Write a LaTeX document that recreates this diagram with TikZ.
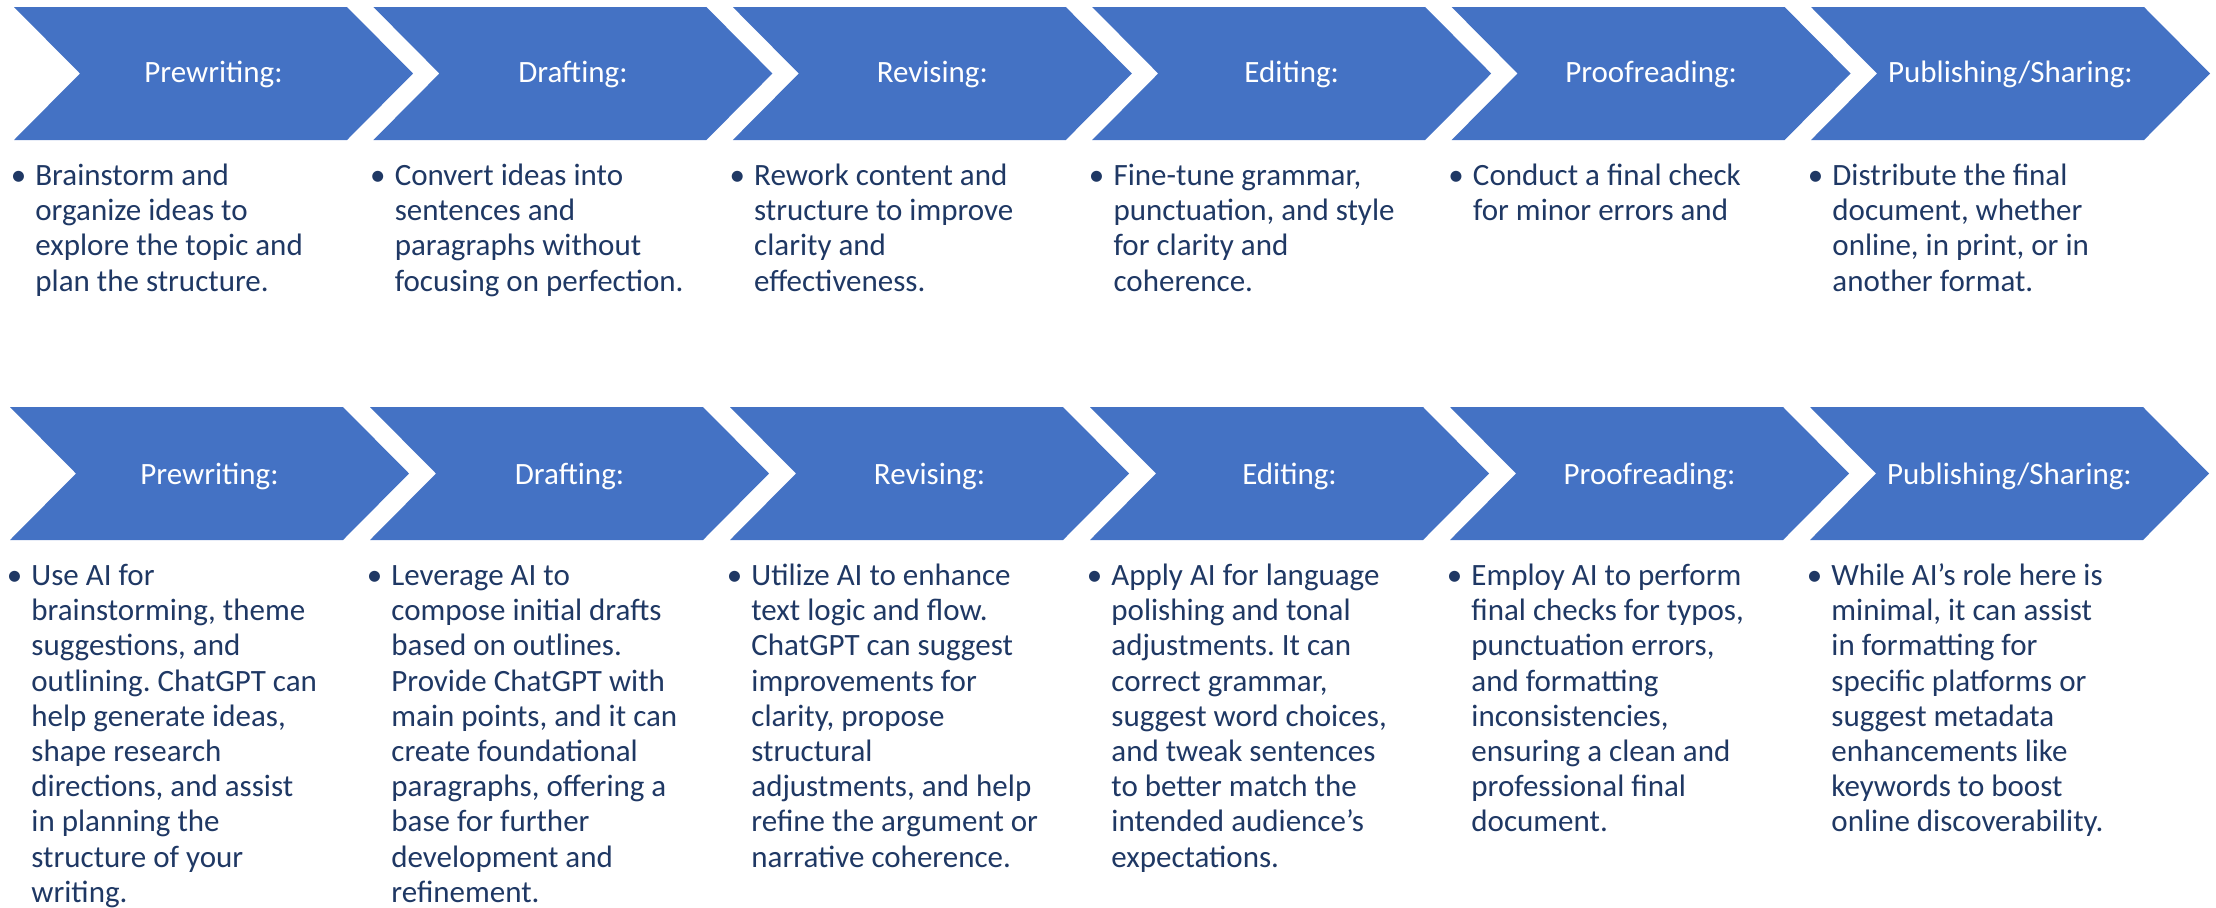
\documentclass[tikz,border=0pt]{standalone}
\usepackage{fontspec}
\setmainfont{Carlito}
\frenchspacing
\definecolor{chevblue}{HTML}{4472C4}
\definecolor{txtnavy}{HTML}{1F3864}
\newcommand{\bul}{\llap{\textbullet\hspace{4.6pt}}\rule{0pt}{12pt}}
\tikzset{
  chevron/.style={fill=chevblue},
  title/.style={anchor=base, text=white, font=\fontsize{15.5pt}{17.6pt}\selectfont},
  body/.style={anchor=north west, inner sep=0pt, yshift=12pt, align=left, text=txtnavy, font=\fontsize{15.5pt}{17.6pt}\selectfont},
}
\begin{document}
\begin{tikzpicture}[x=0.5pt,y=-0.5pt]
\useasboundingbox (0,0) rectangle (2216,907);

% upper row: the stages
\foreach \t [count=\i] in {Prewriting:,Drafting:,Revising:,Editing:,Proofreading:,Publishing/Sharing:}{
  \pgfmathsetmacro\lx{14+359.4*(\i-1)}
  \fill[chevron] (\lx,7) -- ++(333,0) -- ++(66,66.5) -- ++(-66,66.5) -- ++(-333,0) -- ++(66,-66.5) -- cycle;
  \node[title] (up-\i) at (\lx+199.5,82) {\t};
}

\node[body] (up-txt-1) at (35,185) {\bul Brainstorm and\\organize ideas to\\explore the topic and\\plan the structure.};
\node[body] (up-txt-2) at (394.4,185) {\bul Convert ideas into\\sentences and\\paragraphs without\\focusing on perfection.};
\node[body] (up-txt-3) at (753.8,185) {\bul Rework content and\\structure to improve\\clarity and\\effectiveness.};
\node[body] (up-txt-4) at (1113.2,185) {\bul Fine-tune grammar,\\punctuation, and style\\for clarity and\\coherence.};
\node[body] (up-txt-5) at (1472.6,185) {\bul Conduct a final check\\for minor errors and};
\node[body] (up-txt-6) at (1832,185) {\bul Distribute the final\\document, whether\\online, in print, or in\\another format.};

% lower row: the same stages with AI
\foreach \t [count=\i] in {Prewriting:,Drafting:,Revising:,Editing:,Proofreading:,Publishing/Sharing:}{
  \pgfmathsetmacro\lx{10+360*(\i-1)}
  \fill[chevron] (\lx,407) -- ++(333,0) -- ++(66,66.5) -- ++(-66,66.5) -- ++(-333,0) -- ++(66,-66.5) -- cycle;
  \node[title] (low-\i) at (\lx+199.5,484) {\t};
}

\node[body] (low-txt-1) at (31,585) {\bul Use AI for\\brainstorming, theme\\suggestions, and\\outlining. ChatGPT can\\help generate ideas,\\shape research\\directions, and assist\\in planning the\\structure of your\\writing.};
\node[body] (low-txt-2) at (391,585) {\bul Leverage AI to\\compose initial drafts\\based on outlines.\\Provide ChatGPT with\\main points, and it can\\create foundational\\paragraphs, offering a\\base for further\\development and\\refinement.};
\node[body] (low-txt-3) at (751,585) {\bul Utilize AI to enhance\\text logic and flow.\\ChatGPT can suggest\\improvements for\\clarity, propose\\structural\\adjustments, and help\\refine the argument or\\narrative coherence.};
\node[body] (low-txt-4) at (1111,585) {\bul Apply AI for language\\polishing and tonal\\adjustments. It can\\correct grammar,\\suggest word choices,\\and tweak sentences\\to better match the\\intended audience’s\\expectations.};
\node[body] (low-txt-5) at (1471,585) {\bul Employ AI to perform\\final checks for typos,\\punctuation errors,\\and formatting\\inconsistencies,\\ensuring a clean and\\professional final\\document.};
\node[body] (low-txt-6) at (1831,585) {\bul While AI’s role here is\\minimal, it can assist\\in formatting for\\specific platforms or\\suggest metadata\\enhancements like\\keywords to boost\\online discoverability.};
\end{tikzpicture}
\end{document}
